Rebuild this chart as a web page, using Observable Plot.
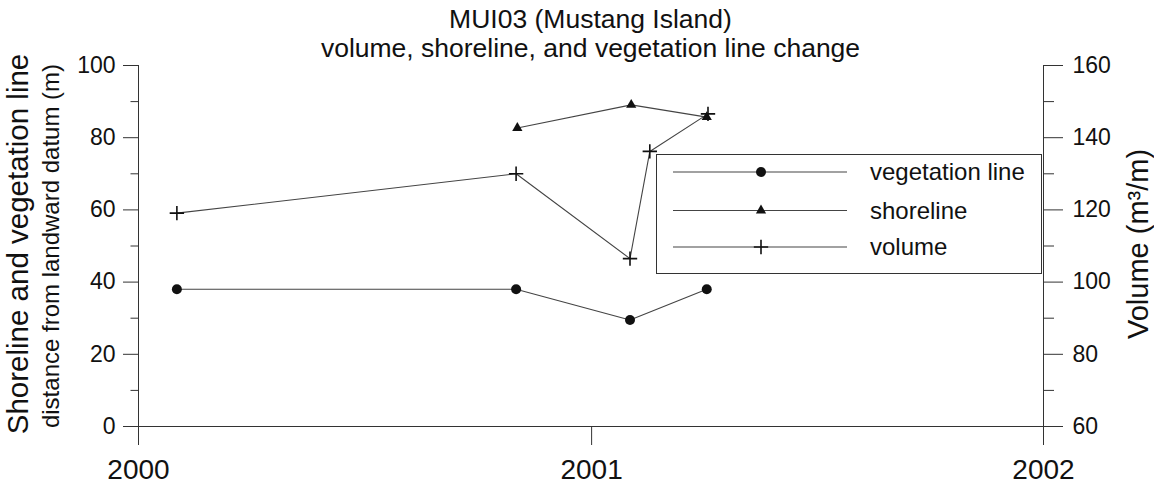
<!DOCTYPE html>
<html>
<head>
<meta charset="utf-8">
<script src="https://cdn.jsdelivr.net/npm/d3@7"></script>
<script src="https://cdn.jsdelivr.net/npm/@observablehq/plot@0.6"></script>
<style>
  body { margin: 0; background: #fff; }
  #wrap { position: relative; width: 1154px; height: 492px; overflow: hidden;
          font-family: "Liberation Sans", Arial, Helvetica, sans-serif; color: #222; background: #fff; }
  #title { position: absolute; left: 0; top: 5px; width: 1181px; text-align: center;
           font-size: 26.5px; line-height: 29px; color: #111; }
  #legend { position: absolute; left: 656px; top: 154px; width: 386px; height: 120px;
            box-sizing: border-box; border: 1px solid #333; background: #fff; }
</style>
</head>
<body>
<div id="wrap">
  <div id="chart"></div>
  <div id="title"></div>
  <div id="legend"></div>
</div>
<script>
// ---- data ----
const titleLines = ["MUI03 (Mustang Island)", "volume, shoreline, and vegetation line change"];
const leftTitle = "Shoreline and vegetation line";
const leftSubtitle = "distance from landward datum (m)";
const rightTitle = "Volume (m\u00B3/m)";

const vegDates = ["2000-02-01", "2000-11-01", "2001-02-01", "2001-04-04"];
const vegValues = [38, 38, 29.5, 38];

const shoreDates = ["2000-11-02", "2001-02-02", "2001-04-04"];
const shoreValues = [82.7, 89.1, 85.7];

const volDates = ["2000-02-01", "2000-11-01", "2001-02-01", "2001-02-17", "2001-04-05"];
const volValues = [119.1, 130.0, 106.5, 136.2, 146.6];

const xTicks = ["2000-01-01", "2001-01-01", "2002-01-01"];
const leftTicks = [0, 20, 40, 60, 80, 100];
const leftMinor = [10, 30, 50, 70, 90];
const rightTicks = [60, 80, 100, 120, 140, 160];
const rightMinor = [70, 90, 110, 130, 150];
const legendLabels = ["vegetation line", "shoreline", "volume"];
const legendSymbols = ["circle", "triangle", "plus"];

// ---- build ----
const volMin = rightTicks[0];
const toDate = s => new Date(s + "T00:00:00Z");
const veg = vegDates.map((d, i) => ({date: toDate(d), value: vegValues[i]}));
const shore = shoreDates.map((d, i) => ({date: toDate(d), value: shoreValues[i]}));
const vol = volDates.map((d, i) => ({date: toDate(d), value: volValues[i] - volMin}));
const xt = xTicks.map(toDate);

const lineStroke = "#444";
const markFill = "#111";
const rCircle = 5, rTri = 3.8, rPlus = 4.7;

const plot = Plot.plot({
  width: 1154,
  height: 492,
  marginLeft: 138,
  marginRight: 111,
  marginTop: 65,
  marginBottom: 66,
  style: {fontFamily: '"Liberation Sans", Arial, Helvetica, sans-serif', fontSize: "23px", color: "#222", background: "transparent", overflow: "visible"},
  x: {type: "utc", domain: [xt[0], xt[xt.length - 1]]},
  y: {domain: [leftTicks[0], leftTicks[leftTicks.length - 1]]},
  marks: [
    Plot.ruleY([0], {stroke: "#333", strokeWidth: 1}),
    Plot.ruleX([xt[0], xt[xt.length - 1]], {y1: leftTicks[0], y2: leftTicks[leftTicks.length - 1], stroke: "#333", strokeWidth: 1}),
    Plot.axisX({ticks: xt, tickFormat: d3.utcFormat("%Y"), tickSize: 19, tickPadding: 14, fontSize: 28, label: null, stroke: "#333", fill: "#111"}),
    Plot.axisY({anchor: "left", ticks: leftTicks, tickSize: 15, tickPadding: 8, fontSize: 23, label: null, stroke: "#333", fill: "#111"}),
    Plot.axisY({anchor: "left", ticks: leftMinor, tickSize: 7.5, tickFormat: () => "", label: null, stroke: "#333"}),
    Plot.axisY({anchor: "right", ticks: rightTicks.map(v => v - volMin), tickFormat: v => String(v + volMin), tickSize: 19, tickPadding: 10, fontSize: 23, label: null, stroke: "#333", fill: "#111"}),
    Plot.axisY({anchor: "right", ticks: rightMinor.map(v => v - volMin), tickSize: 10, tickFormat: () => "", label: null, stroke: "#333"}),
    Plot.line(veg, {x: "date", y: "value", stroke: lineStroke, strokeWidth: 1.1}),
    Plot.line(shore, {x: "date", y: "value", stroke: lineStroke, strokeWidth: 1.1}),
    Plot.line(vol, {x: "date", y: "value", stroke: lineStroke, strokeWidth: 1.1}),
    Plot.dot(veg, {x: "date", y: "value", symbol: "circle", r: rCircle, fill: markFill, stroke: "none"}),
    Plot.dot(shore, {x: "date", y: "value", symbol: "triangle", r: rTri, fill: markFill, stroke: "none"}),
    Plot.dot(vol, {x: "date", y: "value", symbol: "plus", r: rPlus, stroke: markFill, strokeWidth: 1.6}),
    Plot.text([leftTitle], {frameAnchor: "left", textAnchor: "middle", dx: -120, dy: -2, rotate: -90, fontSize: 29.5, fill: "#111", text: d => d}),
    Plot.text([leftSubtitle], {frameAnchor: "left", textAnchor: "middle", dx: -87, rotate: -90, fontSize: 24, fill: "#111", text: d => d}),
    Plot.text([rightTitle], {frameAnchor: "right", textAnchor: "middle", dx: 95, dy: -2, rotate: -90, fontSize: 29, fill: "#111", text: d => d})
  ]
});
document.getElementById("chart").appendChild(plot);

// title
const title = document.getElementById("title");
titleLines.forEach(t => { const d = document.createElement("div"); d.textContent = t; title.appendChild(d); });

// legend
const lg = d3.select("#legend").append("svg")
  .attr("width", 384).attr("height", 118)
  .style("font-family", '"Liberation Sans", Arial, Helvetica, sans-serif');
const rowY = [17, 55.5, 92];
const symR = {circle: rCircle, triangle: rTri, plus: rPlus};
const symType = {circle: d3.symbolCircle, triangle: d3.symbolTriangle, plus: d3.symbolPlus};
legendLabels.forEach((lab, i) => {
  const g = lg.append("g").attr("transform", `translate(0,${rowY[i]})`);
  g.append("line").attr("x1", 16).attr("x2", 190).attr("y1", 0).attr("y2", 0)
    .attr("stroke", lineStroke).attr("stroke-width", 1.1);
  const s = legendSymbols[i];
  const path = g.append("path").attr("transform", "translate(104,0)")
    .attr("d", d3.symbol(symType[s], Math.PI * symR[s] * symR[s])());
  if (s === "plus") path.attr("fill", "none").attr("stroke", markFill).attr("stroke-width", 1.6);
  else path.attr("fill", markFill);
  g.append("text").attr("x", 213).attr("y", 0).attr("dy", "0.35em")
    .attr("font-size", 24).attr("fill", "#111").text(lab);
});
</script>
</body>
</html>
